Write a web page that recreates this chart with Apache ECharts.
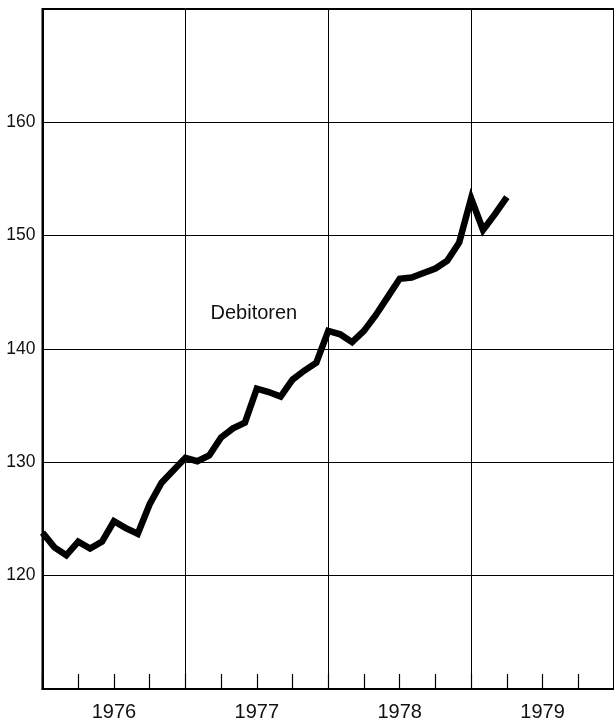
<!DOCTYPE html>
<html>
<head>
<meta charset="utf-8">
<script src="https://cdn.jsdelivr.net/npm/echarts@6/dist/echarts.min.js"></script>
<style>
html,body{margin:0;padding:0;background:#fff;}
#chart{width:614px;height:726px;}
</style>
</head>
<body>
<div id="chart"></div>
<script>
// Year categories (label bands)
var years = ['1976', '1977', '1978', '1979'];
// Monthly positions Jan 1976 .. Jan 1980
var months = [];
for (var y = 1976; y <= 1979; y++) {
  for (var m = 1; m <= 12; m++) months.push(y + '-' + (m < 10 ? '0' + m : m));
}
months.push('1980-01');

// Debitoren, monthly values (Jan 1976 .. Apr 1979)
var debitoren1976 = [123.8, 122.5, 121.8, 123.0, 122.4, 123.0, 124.8, 124.2, 123.7, 126.3, 128.2, 129.3];
var debitoren1977 = [130.4, 130.1, 130.6, 132.2, 133.0, 133.5, 136.5, 136.2, 135.8, 137.3, 138.1, 138.8];
var debitoren1978 = [141.6, 141.3, 140.6, 141.6, 143.0, 144.6, 146.2, 146.3, 146.7, 147.1, 147.8, 149.4];
var debitoren1979 = [153.3, 150.5, 151.9, 153.4];
var debitoren = debitoren1976.concat(debitoren1977, debitoren1978, debitoren1979);

var yTicks = [120, 130, 140, 150, 160];
var seriesLabel = 'Debitoren';

var font = 'Liberation Sans, Arial, Helvetica, sans-serif';
var chart = echarts.init(document.getElementById('chart'), null, {renderer: 'canvas'});
chart.setOption({
  backgroundColor: '#ffffff',
  animation: false,
  grid: {
    left: 42.5, right: -1, top: 9, bottom: 37,
    show: true, borderColor: '#000', borderWidth: 2, backgroundColor: 'transparent'
  },
  xAxis: [
    {
      type: 'category',
      data: years,
      boundaryGap: true,
      position: 'bottom',
      axisLine: {show: false},
      axisTick: {show: false},
      splitLine: {show: true, lineStyle: {color: '#000', width: 1}},
      axisLabel: {color: '#111', fontSize: 20, fontFamily: font, margin: 13}
    },
    {
      type: 'category',
      data: months,
      boundaryGap: false,
      position: 'bottom',
      axisLine: {show: true, lineStyle: {color: '#000', width: 2}},
      axisTick: {show: true, inside: true, length: 15, interval: 2, lineStyle: {color: '#000', width: 1.2}},
      axisLabel: {show: false},
      splitLine: {show: false}
    }
  ],
  yAxis: {
    type: 'value',
    min: 110, max: 170, interval: 10,
    axisLine: {show: true, lineStyle: {color: '#000', width: 2}},
    axisTick: {show: false},
    splitLine: {show: true, lineStyle: {color: '#000', width: 1}},
    axisLabel: {
      color: '#111', fontSize: 17.5, fontFamily: font, margin: 7,
      formatter: function (v) { return yTicks.indexOf(v) >= 0 ? String(v) : ''; }
    }
  },
  series: [{
    name: seriesLabel,
    type: 'line',
    xAxisIndex: 1,
    data: debitoren,
    symbol: 'none',
    smooth: false,
    lineStyle: {color: '#000', width: 6.5, join: 'miter', miterLimit: 4, cap: 'butt'}
  }],
  graphic: [{
    type: 'text',
    x: 210.5, y: 313,
    style: {text: seriesLabel, fill: '#111', font: '20px ' + font, textAlign: 'left', textVerticalAlign: 'middle'}
  }]
});
</script>
</body>
</html>
